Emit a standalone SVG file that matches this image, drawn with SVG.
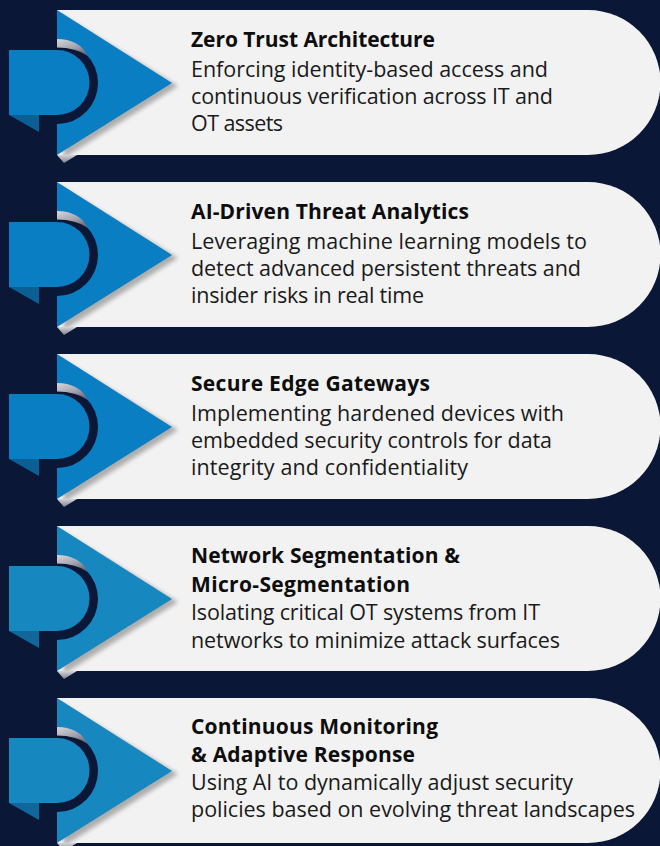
<svg xmlns="http://www.w3.org/2000/svg" width="660" height="846" viewBox="0 0 660 846">
  <style>
    .bg { fill: #0a1737; }
    .card { fill: #f2f2f2; }
    .ring { fill: #0a1737; }
    .title { font-family: "Open Sans", "Noto Sans", "Liberation Sans", sans-serif; font-weight: 700; font-size: 21px; fill: #0d0d0d; }
    .desc { font-family: "Open Sans", "Noto Sans", "Liberation Sans", sans-serif; font-weight: 400; font-size: 21.5px; fill: #1a1a1a; }
    .blueA { fill: #0a7ec2; }
    .blueB { fill: #1788bf; }
    .foldA { fill: #0c5f92; }
    .foldB { fill: #11679a; }
  </style>
  <defs>
    <filter id="soft" x="-20%" y="-20%" width="140%" height="140%">
      <feGaussianBlur stdDeviation="2.2"/>
    </filter>
    <linearGradient id="curl" x1="0" y1="0" x2="0.6" y2="1">
      <stop offset="0" stop-color="#d6d6dc"/>
      <stop offset="0.6" stop-color="#a4a4b0"/>
      <stop offset="1" stop-color="#6a6c7e"/>
    </linearGradient>
    <linearGradient id="tip" x1="0" y1="0" x2="0" y2="1">
      <stop offset="0" stop-color="#d4d4d8"/>
      <stop offset="1" stop-color="#7f8090"/>
    </linearGradient>

    <!-- shared card body: pill, triangle drop shadow, bottom fold tip -->
    <g id="body">
      <path class="card" d="M57,10 H588 A72.5,72.5 0 0 1 588,155 H57 Z"/>
      <path d="M60,14 L178,86 L64,158 Z" fill="#000" opacity="0.28" filter="url(#soft)"/>
      <path d="M57,155 L77,155 L64,163 Z" fill="url(#tip)"/>
    </g>
    <!-- shared ring with its curled highlight -->
    <g id="ring">
      <path class="ring" d="M57,42 A41,41 0 0 1 57,124 Z"/>
      <path d="M57,39 Q79,39 88,56 Q76,47.5 57,47.5 Z" fill="url(#curl)"/>
    </g>
  </defs>

  <rect class="bg" x="0" y="0" width="660" height="846"/>

  <g id="card-zero-trust">
    <use href="#body"/>
    <path class="blueA" d="M57,10 L172,83 L57,155 Z"/>
    <use href="#ring"/>
    <path class="foldA" d="M9,115 L39,115 L39,132 Z"/>
    <path class="blueA" d="M9,50 H57 A32.5,32.5 0 0 1 57,115 H9 Z"/>
    <text class="title" x="191" y="47" textLength="244">Zero Trust Architecture</text>
    <text class="desc" x="191" y="76.5" textLength="357">Enforcing identity-based access and</text>
    <text class="desc" x="191" y="103.5" textLength="362">continuous verification across IT and</text>
    <text class="desc" x="191" y="130.5" textLength="92">OT assets</text>
  </g>

  <g id="card-ai-analytics" transform="translate(0,172)">
    <use href="#body"/>
    <path class="blueA" d="M57,10 L172,83 L57,155 Z"/>
    <use href="#ring"/>
    <path class="foldA" d="M9,115 L39,115 L39,132 Z"/>
    <path class="blueA" d="M9,50 H57 A32.5,32.5 0 0 1 57,115 H9 Z"/>
    <text class="title" x="191" y="47" textLength="278">AI-Driven Threat Analytics</text>
    <text class="desc" x="191" y="76.5" textLength="396">Leveraging machine learning models to</text>
    <text class="desc" x="191" y="103.5" textLength="390">detect advanced persistent threats and</text>
    <text class="desc" x="191" y="130.5" textLength="233">insider risks in real time</text>
  </g>

  <g id="card-edge-gateways" transform="translate(0,344)">
    <use href="#body"/>
    <path class="blueA" d="M57,10 L172,83 L57,155 Z"/>
    <use href="#ring"/>
    <path class="foldA" d="M9,115 L39,115 L39,132 Z"/>
    <path class="blueA" d="M9,50 H57 A32.5,32.5 0 0 1 57,115 H9 Z"/>
    <text class="title" x="191" y="47" textLength="239">Secure Edge Gateways</text>
    <text class="desc" x="191" y="76.5" textLength="373">Implementing hardened devices with</text>
    <text class="desc" x="191" y="103.5" textLength="361">embedded security controls for data</text>
    <text class="desc" x="191" y="130.5" textLength="277">integrity and confidentiality</text>
  </g>

  <g id="card-segmentation" transform="translate(0,516)">
    <use href="#body"/>
    <path class="blueB" d="M57,10 L172,83 L57,155 Z"/>
    <use href="#ring"/>
    <path class="foldB" d="M9,115 L39,115 L39,132 Z"/>
    <path class="blueB" d="M9,50 H57 A32.5,32.5 0 0 1 57,115 H9 Z"/>
    <text class="title" x="191" y="47" textLength="269">Network Segmentation &amp;</text>
    <text class="title" x="191" y="75.5" textLength="219">Micro-Segmentation</text>
    <text class="desc" x="191" y="104" textLength="349">Isolating critical OT systems from IT</text>
    <text class="desc" x="191" y="132" textLength="369">networks to minimize attack surfaces</text>
  </g>

  <g id="card-monitoring" transform="translate(0,688)">
    <use href="#body"/>
    <path class="blueB" d="M57,10 L172,83 L57,155 Z"/>
    <use href="#ring"/>
    <path class="foldB" d="M9,115 L39,115 L39,132 Z"/>
    <path class="blueB" d="M9,50 H57 A32.5,32.5 0 0 1 57,115 H9 Z"/>
    <text class="title" x="191" y="45.5" textLength="247">Continuous Monitoring</text>
    <text class="title" x="191" y="74" textLength="224">&amp; Adaptive Response</text>
    <text class="desc" x="191" y="102" textLength="382">Using AI to dynamically adjust security</text>
    <text class="desc" x="191" y="129" textLength="444">policies based on evolving threat landscapes</text>
  </g>
</svg>
